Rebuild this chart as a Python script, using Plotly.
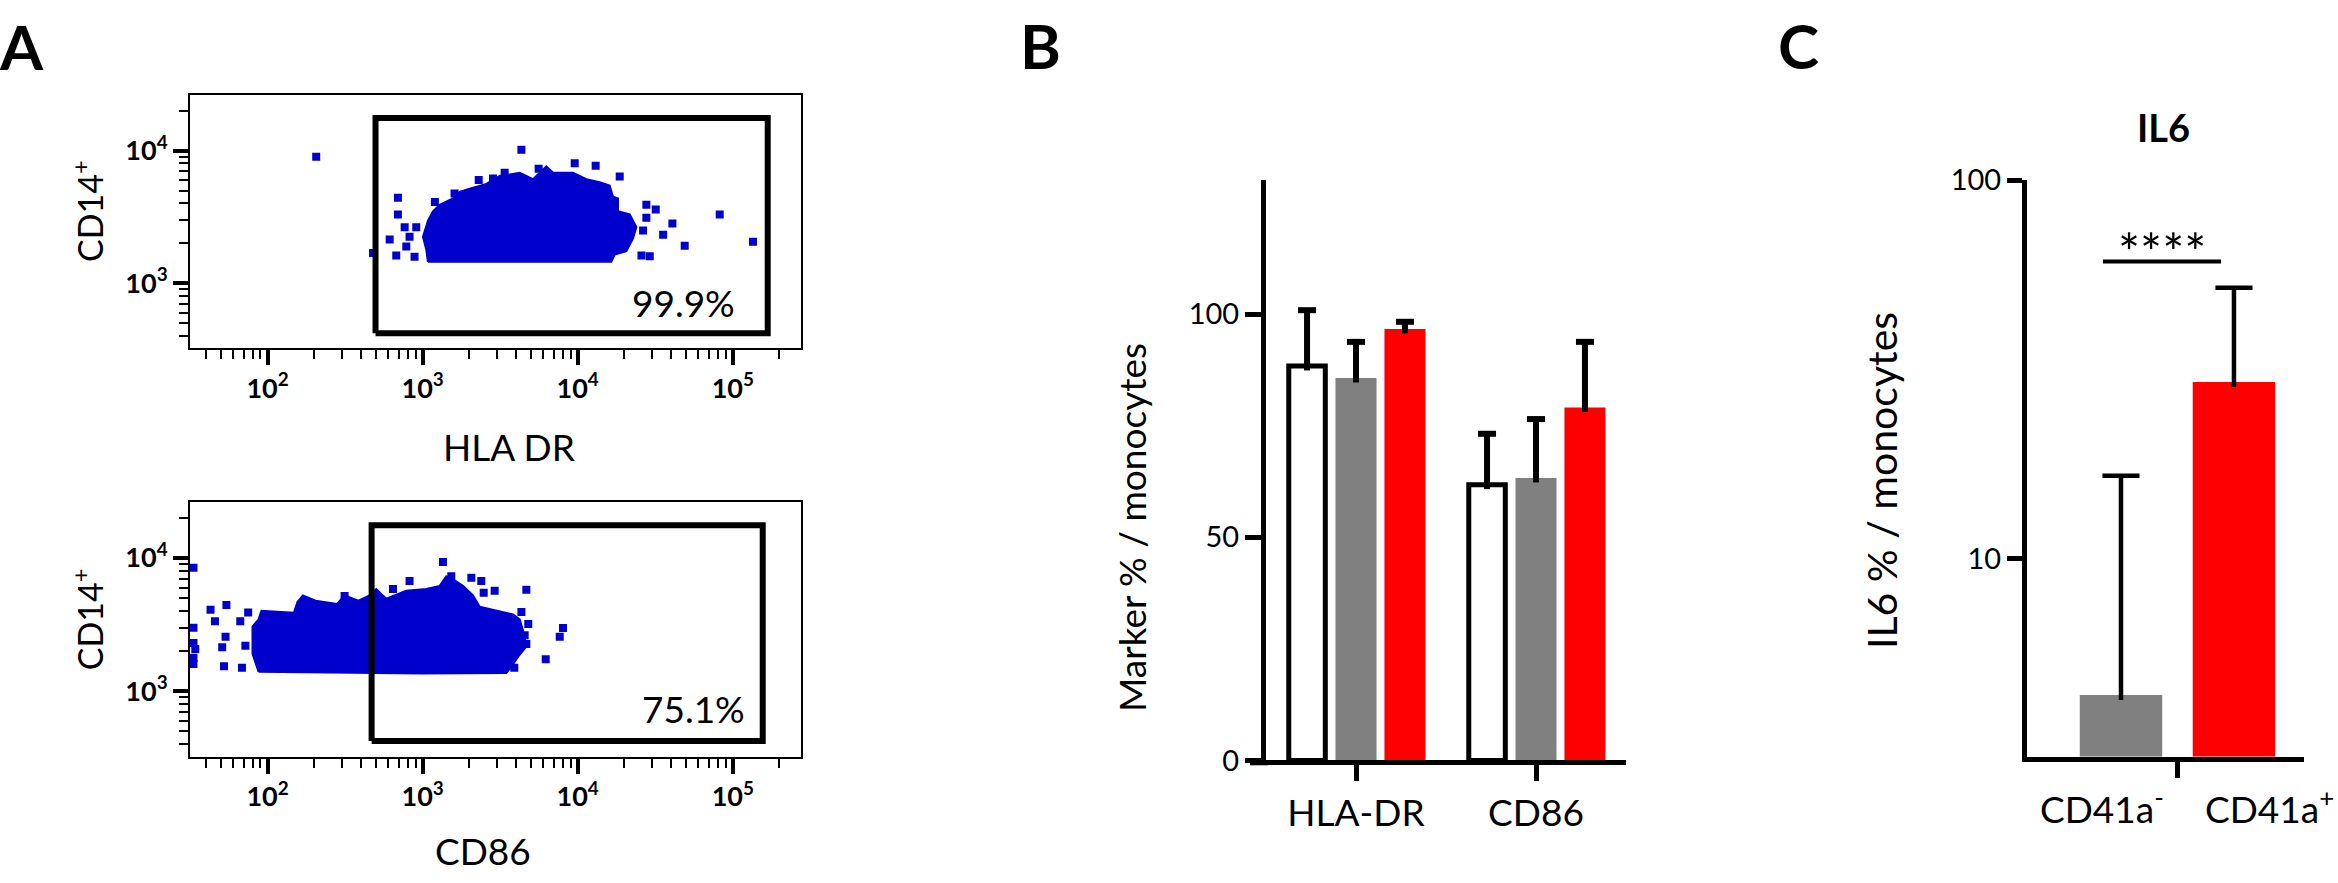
import plotly.graph_objects as go

W, H = 2338, 883
FONT = "Lato"
BLUE = "#0000cd"
GRAY = "#808080"
RED = "#ff0000"

# ---------------- Panel A data (flow cytometry, CD14+ monocytes) ----------------
# dense population outline (x, y) and isolated events, HLA DR vs CD14
HLA_BLOB_X = [1082, 16480, 17340, 20600, 22750, 23900, 21650, 18190, 18190, 16900, 16070,
              13860, 11380, 9330, 6940, 6280, 5150, 4230, 3140, 2580, 2010, 1733, 1570,
              1288, 1166, 1082, 1005, 1056]
HLA_BLOB_Y = [1452, 1452, 1648, 1746, 2178, 2649, 3304, 3494, 4367, 4490, 5457,
              5770, 6100, 6810, 6810, 7620, 6100, 6810, 6440, 5610, 5160, 4880, 4367,
              3908, 3494, 2958, 2240, 1795]
HLA_OUT_X = [206, 4335, 693, 693, 613, 676, 479, 766, 887, 82400, 135000, 48980, 40800,
             35550, 31860, 27730, 29150, 25780, 18660, 13060, 9570, 3380, 2843, 1607,
             27730, 26400, 910, 824, 785, 1200, 2300, 5600]
HLA_OUT_Y = [9000, 10160, 4416, 3304, 2143, 1622, 1694, 2649, 1585, 3304, 2062, 1917, 2830,
             2319, 3596, 3908, 1603, 1622, 6370, 7690, 8050, 6810, 6160, 4745,
             3127, 2500, 2649, 2240, 1897, 4100, 6000, 7300]

# CD86 vs CD14
CD86_BLOB_X = [87.5, 80, 80, 87.5, 91.4, 148, 156, 169, 204, 281, 313, 386, 455, 502, 583,
               785, 1056, 1288, 1422, 1570, 1820, 2113, 2333, 3140, 3830, 4230, 4440, 4665,
               4230, 3830, 3470, 1000, 300]
CD86_BLOB_Y = [1400, 1910, 3060, 3467, 4018, 3890, 4670, 5240, 4790, 4520, 5240, 4790, 5240,
               5850, 4955, 5690, 5850, 6180, 7290, 6900, 6180, 5240, 4315, 3980, 3765, 3467,
               2858, 2168, 1888, 1600, 1370, 1360, 1380]
CD86_OUT_X = [1353, 824, 1531, 2062, 2389, 2915, 2477, 4665, 4335, 4550, 4665, 8040, 7660,
              6220, 644, 314, 42.9, 54.3, 45.8, 53.6, 51, 34.2, 33.3, 52.4, 68.4, 66.7, 33.3,
              33.3, 33.3, 33.3, 72, 75, 3900, 4800]
CD86_OUT_Y = [9350, 6710, 7290, 7100, 6710, 5690, 5480, 5790, 3935, 2630, 2265, 2985, 2560,
              1738, 5850, 5190, 4094, 4436, 3350, 2570, 2144, 2074, 1786, 1538, 1500, 3350, 8470,
              3000, 2300, 1600, 2200, 3900, 1500, 3200]

# gates: [x_min, x_max, y_min, y_max]
HLA_GATE = [497, 168000, 420, 17600]
CD86_GATE = [469, 156000, 423, 17600]
GATE_PCT = ["99.9%", "75.1%"]
A_XTICKS = [100, 1000, 10000, 100000]
A_XTEXT = ["<b>10<sup>2</sup></b>", "<b>10<sup>3</sup></b>", "<b>10<sup>4</sup></b>", "<b>10<sup>5</sup></b>"]
A_YTICKS = [1000, 10000]
A_YTEXT = ["<b>10<sup>3</sup></b>", "<b>10<sup>4</sup></b>"]

# ---------------- Panel B data ----------------
B_CATS = ["HLA-DR", "CD86"]
B_WHITE = [88.4, 61.8]
B_WHITE_ERR = [12.5, 11.4]
B_GRAY = [85.7, 63.3]
B_GRAY_ERR = [8.1, 13.2]
B_RED = [96.7, 79.1]
B_RED_ERR = [1.6, 14.7]
B_YTICKS = [0, 50, 100]

# ---------------- Panel C data ----------------
C_CATS = ["CD41a<sup>-</sup>", "CD41a<sup>+</sup>"]
C_MEAN = [4.36, 29.3]
C_ERR = [12.2, 22.7]
C_SIG_Y = 61
C_SIG = "****"
C_YTICKS = [10, 100]


def px(x):
    return x / W


def py(y):
    return 1 - y / H


fig = go.Figure()

# ---------- Panel A ----------
def add_flow(blob_x, blob_y, out_x, out_y, gate, xa, ya):
    fig.add_trace(go.Scatter(x=blob_x + blob_x[:1], y=blob_y + blob_y[:1], mode="lines",
                             fill="toself", fillcolor=BLUE, line=dict(color=BLUE, width=2),
                             xaxis=xa, yaxis=ya, showlegend=False, hoverinfo="skip"))
    fig.add_trace(go.Scatter(x=out_x, y=out_y, mode="markers",
                             marker=dict(symbol="square", size=8, color=BLUE, line=dict(width=0)),
                             xaxis=xa, yaxis=ya, showlegend=False, hoverinfo="skip"))
    gx = [gate[0], gate[1], gate[1], gate[0], gate[0]]
    gy = [gate[2], gate[2], gate[3], gate[3], gate[2]]
    fig.add_trace(go.Scatter(x=gx, y=gy, mode="lines", line=dict(color="black", width=6),
                             xaxis=xa, yaxis=ya, showlegend=False, hoverinfo="skip"))


add_flow(HLA_BLOB_X, HLA_BLOB_Y, HLA_OUT_X, HLA_OUT_Y, HLA_GATE, "x", "y")
add_flow(CD86_BLOB_X, CD86_BLOB_Y, CD86_OUT_X, CD86_OUT_Y, CD86_GATE, "x2", "y2")

# ---------- Panel B ----------
SLOT = 0.272
BW = 0.228
b_groups = [(B_WHITE, B_WHITE_ERR, "white", 5, BW - 0.025),
            (B_GRAY, B_GRAY_ERR, GRAY, 0, BW),
            (B_RED, B_RED_ERR, RED, 0, BW)]
for j, (vals, errs, col, lw, wd) in enumerate(b_groups):
    xs = [i + (j - 1) * SLOT for i in range(len(B_CATS))]
    fig.add_trace(go.Bar(x=xs, y=vals, width=wd, marker=dict(color=col, line=dict(color="black", width=lw)),
                         xaxis="x3", yaxis="y3", showlegend=False, hoverinfo="skip"))
for j, (vals, errs, col, lw, wd) in enumerate(b_groups):
    xs = [i + (j - 1) * SLOT for i in range(len(B_CATS))]
    X, Y = [], []
    cap = 0.05
    for x, v, e in zip(xs, vals, errs):
        X += [x, x, None, x - cap, x + cap, None]
        Y += [v - 1, v + e, None, v + e, v + e, None]
    fig.add_trace(go.Scatter(x=X, y=Y, mode="lines", line=dict(color="black", width=6),
                             xaxis="x3", yaxis="y3", showlegend=False, hoverinfo="skip"))

# ---------- Panel C ----------
fig.add_trace(go.Bar(x=[0, 1], y=C_MEAN, width=0.73, marker=dict(color=[GRAY, RED], line=dict(width=0)),
                     xaxis="x4", yaxis="y4", showlegend=False, hoverinfo="skip"))
X, Y = [], []
ccap = 0.164
for x, v, e in zip([0, 1], C_MEAN, C_ERR):
    X += [x, x, None, x - ccap, x + ccap, None]
    Y += [v * 0.97, v + e, None, v + e, v + e, None]
fig.add_trace(go.Scatter(x=X, y=Y, mode="lines", line=dict(color="black", width=4.5),
                         xaxis="x4", yaxis="y4", showlegend=False, hoverinfo="skip"))
fig.add_trace(go.Scatter(x=[-0.16, 0.885], y=[C_SIG_Y, C_SIG_Y], mode="lines",
                         line=dict(color="black", width=4), xaxis="x4", yaxis="y4",
                         showlegend=False, hoverinfo="skip"))

# ---------- Axes ----------
tickfont_a = dict(family=FONT, size=27, color="black")
minor_a = dict(ticks="outside", ticklen=9, tickwidth=2, tickcolor="black", dtick="D1")


def a_x(dom_y_anchor):
    return dict(type="log", range=[1.5, 5.44], domain=[px(190), px(801)], anchor=dom_y_anchor,
                showline=True, linecolor="black", linewidth=2, mirror=True, showgrid=False,
                zeroline=False, ticks="outside", ticklen=15, tickwidth=4, tickcolor="black",
                tickmode="array", tickvals=A_XTICKS, ticktext=A_XTEXT, tickfont=tickfont_a,
                minor=minor_a)


def a_y(dom, x_anchor):
    return dict(type="log", range=[2.51, 4.42], domain=dom, anchor=x_anchor,
                showline=True, linecolor="black", linewidth=2, mirror=True, showgrid=False,
                zeroline=False, ticks="outside", ticklen=15, tickwidth=4, tickcolor="black",
                tickmode="array", tickvals=A_YTICKS, ticktext=A_YTEXT, tickfont=tickfont_a,
                minor=minor_a)


tick_big = dict(family=FONT, size=29, color="black")

fig.update_layout(
    width=W, height=H, margin=dict(l=0, r=0, t=0, b=0),
    paper_bgcolor="white", plot_bgcolor="white",
    font=dict(family=FONT, color="black"),
    showlegend=False, barmode="overlay",
    xaxis=a_x("y"), yaxis=a_y([py(343), py(79)], "x"),
    xaxis2=a_x("y2"), yaxis2=a_y([py(768), py(503)], "x2"),
    xaxis3=dict(range=[-0.5, 1.5], domain=[px(1266), px(1626)], anchor="y3",
                showline=True, linecolor="black", linewidth=5, showgrid=False, zeroline=False,
                ticks="outside", ticklen=16, tickwidth=5, tickcolor="black",
                tickmode="array", tickvals=list(range(len(B_CATS))), ticktext=B_CATS,
                tickfont=dict(family=FONT, size=37, color="black")),
    yaxis3=dict(range=[0, 130], domain=[py(772), py(168)], anchor="x3",
                showline=True, linecolor="black", linewidth=5, showgrid=False, zeroline=False,
                ticks="outside", ticklen=16, tickwidth=5, tickcolor="black",
                tickmode="array", tickvals=B_YTICKS, tickfont=tick_big),
    xaxis4=dict(range=[-0.832, 1.62], domain=[px(2027), px(2304)], anchor="y4",
                showline=True, linecolor="black", linewidth=5, showgrid=False, zeroline=False,
                ticks="outside", ticklen=16, tickwidth=5, tickcolor="black",
                tickmode="array", tickvals=[0.5], ticktext=[""]),
    yaxis4=dict(type="log", range=[0.477, 2.0], domain=[py(768), py(168)], anchor="x4",
                showline=True, linecolor="black", linewidth=5, showgrid=False, zeroline=False,
                ticks="outside", ticklen=15, tickwidth=5, tickcolor="black",
                tickmode="array", tickvals=C_YTICKS, ticktext=[str(v) for v in C_YTICKS],
                tickfont=tick_big),
    # short extension of panel B baseline to the left of its y axis (Prism style)
    shapes=[dict(type="line", xref="paper", yref="paper", x0=px(1250), x1=px(1268),
                 y0=py(774.5), y1=py(774.5), line=dict(color="black", width=5))],
)

# ---------- Text ----------
ann = []


def text(x, y, s, size, bold=False, angle=0, xanchor="center", yanchor="middle"):
    ann.append(dict(x=px(x), y=py(y), xref="paper", yref="paper", text=("<b>%s</b>" % s) if bold else s,
                    showarrow=False, textangle=angle, xanchor=xanchor, yanchor=yanchor,
                    font=dict(family=FONT, size=size, color="black")))


text(21, 28, "A", 62, bold=True)
text(1040, 27, "B", 62, bold=True)
text(1798, 27, "C", 62, bold=True)
text(88, 200, "CD14<sup>+</sup>", 34, angle=-90)
text(88, 625, "CD14<sup>+</sup>", 34, angle=-90)
text(509, 445, "HLA DR", 37)
text(483, 866, "CD86", 37)
text(737, 295, GATE_PCT[0], 37, xanchor="right")
text(747, 718, GATE_PCT[1], 37, xanchor="right")
text(1132, 530, "Marker % / monocytes", 37, angle=-90)
text(1882, 481, "IL6 % / monocytes", 41, angle=-90)
text(2163, 112, "IL6", 38, bold=True)
text(2162, 243, C_SIG, 52)
text(2102, 820, C_CATS[0], 37)
text(2336, 820, C_CATS[1], 37, xanchor="right")
fig.update_layout(annotations=ann)

fig.write_html("out.html", config={"displayModeBar": False},
               post_script="document.body.style.margin='0';document.body.style.overflow='hidden';")
